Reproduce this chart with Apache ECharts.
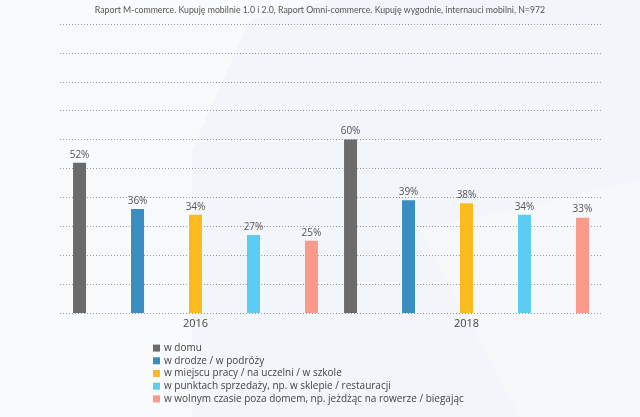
<!DOCTYPE html>
<html><head><meta charset="utf-8">
<script src="https://cdn.jsdelivr.net/npm/echarts@6/dist/echarts.min.js"></script>
<style>html,body{margin:0;padding:0;background:#f9fafb}#c{width:640px;height:417px}</style>
</head><body><div id="c"></div>
<script>
const years = ['2016', '2018'];
const seriesNames = [
  'w domu',
  'w drodze / w podróży',
  'w miejscu pracy / na uczelni / w szkole',
  'w punktach sprzedaży, np. w sklepie / restauracji',
  'w wolnym czasie poza domem, np. jeżdżąc na rowerze / biegając'
];
const domu = [52, 60];
const drodze = [36, 39];
const praca = [34, 38];
const punkty = [27, 34];
const wolny = [25, 33];
const colors = ['#6b6b6b', '#3a8dc1', '#fbbb1e', '#5bcdf3', '#fb9a8a'];
const subtitle = 'Raport M-commerce. Kupuję mobilnie 1.0 i 2.0, Raport Omni-commerce. Kupuję wygodnie, internauci mobilni, N=972';

const values = [domu, drodze, praca, punkty, wolny];
const font = 'Lato, "Noto Sans", sans-serif';
const wide = '"Open Sans", "Noto Sans", sans-serif';
const chart = echarts.init(document.getElementById('c'), null, {renderer: 'canvas'});
chart.setOption({
  backgroundColor: '#f9fafb',
  animation: false,
  color: colors,
  graphic: [
    {type: 'polygon', silent: true, z: -10,
     shape: {points: [[192, 417], [192, 150], [250, 20], [330, 0], [640, 0], [640, 417]]},
     style: {fill: '#f2f5f9'}},
    {type: 'polygon', silent: true, z: -9,
     shape: {points: [[420, 230], [640, 180], [640, 417], [520, 417]]},
     style: {fill: '#f6f8fa'}}
  ],
  title: {
    text: subtitle, left: 'center', top: 1,
    textStyle: {fontSize: 8.75, fontWeight: 'normal', color: '#555', fontFamily: font}
  },
  grid: {left: 60, right: 38, top: 24, bottom: 104},
  xAxis: {
    type: 'category', data: years,
    axisLine: {show: false}, axisTick: {show: false},
    axisLabel: {color: '#444', fontSize: 11, fontFamily: wide, margin: 5}
  },
  yAxis: {
    type: 'value', min: 0, max: 100, interval: 10,
    axisLabel: {show: false}, axisLine: {show: false}, axisTick: {show: false},
    splitLine: {lineStyle: {type: [1, 2], color: '#9a9a9a', width: 1}}
  },
  legend: {
    orient: 'vertical', left: 148, top: 337,
    itemWidth: 7, itemHeight: 7, itemGap: 0.5,
    icon: 'rect',
    textStyle: {fontSize: 10, color: '#444', fontFamily: wide, lineHeight: 12.2, padding: [0, 0, 0, -1]},
    data: seriesNames
  },
  series: seriesNames.map((n, i) => ({
    name: n, type: 'bar', data: values[i],
    barWidth: 13, barGap: '346%',
    itemStyle: {color: colors[i]},
    label: {show: true, position: 'top', distance: 3, formatter: '{c}%',
      color: '#555', fontSize: 10, fontFamily: wide}
  }))
});
</script></body></html>
